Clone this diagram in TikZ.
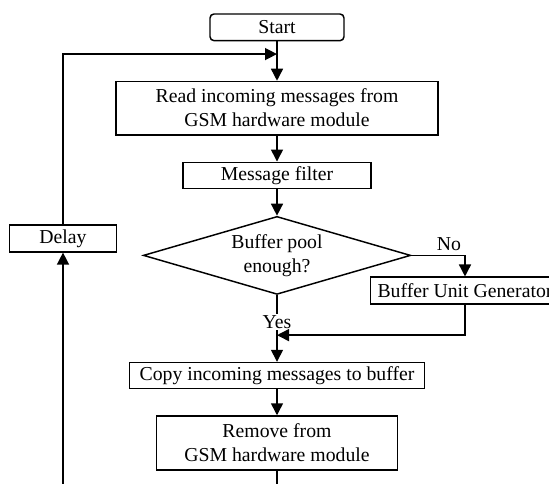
\documentclass[tikz,border=0pt]{standalone}
\usepackage{fontspec}
\setmainfont{Liberation Serif}
\usetikzlibrary{positioning,shapes.geometric,arrows.meta}
\tikzset{every node/.style={align=center,font=\fontsize{14.8}{18}\selectfont}}
\tikzset{box/.style={rectangle,draw,inner sep=2pt,minimum height=19.5pt},
  startbox/.style={box,rounded corners=3pt,minimum width=100.5pt,minimum height=20pt},
  decision/.style={diamond,draw,aspect=3.43,inner sep=0pt,minimum width=200.5pt,minimum height=58.5pt},
  arr/.style={-{Triangle[length=9pt,width=9pt]}}}

\begin{document}
\begin{tikzpicture}[line width=1.1pt]
\useasboundingbox (0,0) rectangle (411.75pt,-363pt);

\node[startbox] (start) at (207.75pt,-20.5pt) {Start};
\node[box,minimum width=241.5pt,minimum height=40pt,below=29.5pt of start] (read) {Read incoming messages from\\GSM hardware module};
\node[box,minimum width=141pt,below=19.5pt of read] (filter) {Message filter};
\node[decision,below=20pt of filter] (pool) {Buffer pool\\enough?};
\node[box,minimum width=221pt,below=50pt of pool] (copy) {Copy incoming messages to buffer};
\node[box,minimum width=181pt,minimum height=40.5pt,below=19.5pt of copy] (remove) {Remove from\\GSM hardware module};

\node[box,minimum width=80.5pt,minimum height=20pt] (delay) at (47.25pt,-178.9pt) {Delay};
\node[box,minimum width=141.75pt,minimum height=20pt] (bufgen) at (348.75pt,-217.9pt) {Buffer Unit Generator};

\coordinate (loop) at ([yshift=-9.5pt]start.south);
\coordinate (merge) at ([yshift=20pt]copy.north);
\coordinate (base) at (0,-363pt);

\draw[arr] (start) -- (read);
\draw[arr] (read) -- (filter);
\draw[arr] (filter) -- (pool);
\draw[arr] (pool.east) -| node[pos=0.35,above]{No} (bufgen.north);
\draw[arr] (pool.south) -- node[pos=0.4,fill=white,inner sep=1pt]{Yes} (copy.north);
\draw[arr] (bufgen.south) |- (merge);
\draw[arr] (copy) -- (remove);
\draw (remove.south) -- (remove.south |- base);
\draw[arr] (delay.south |- base) -- (delay.south);
\draw[arr] (delay.north) |- (loop);

\end{tikzpicture}
\end{document}
